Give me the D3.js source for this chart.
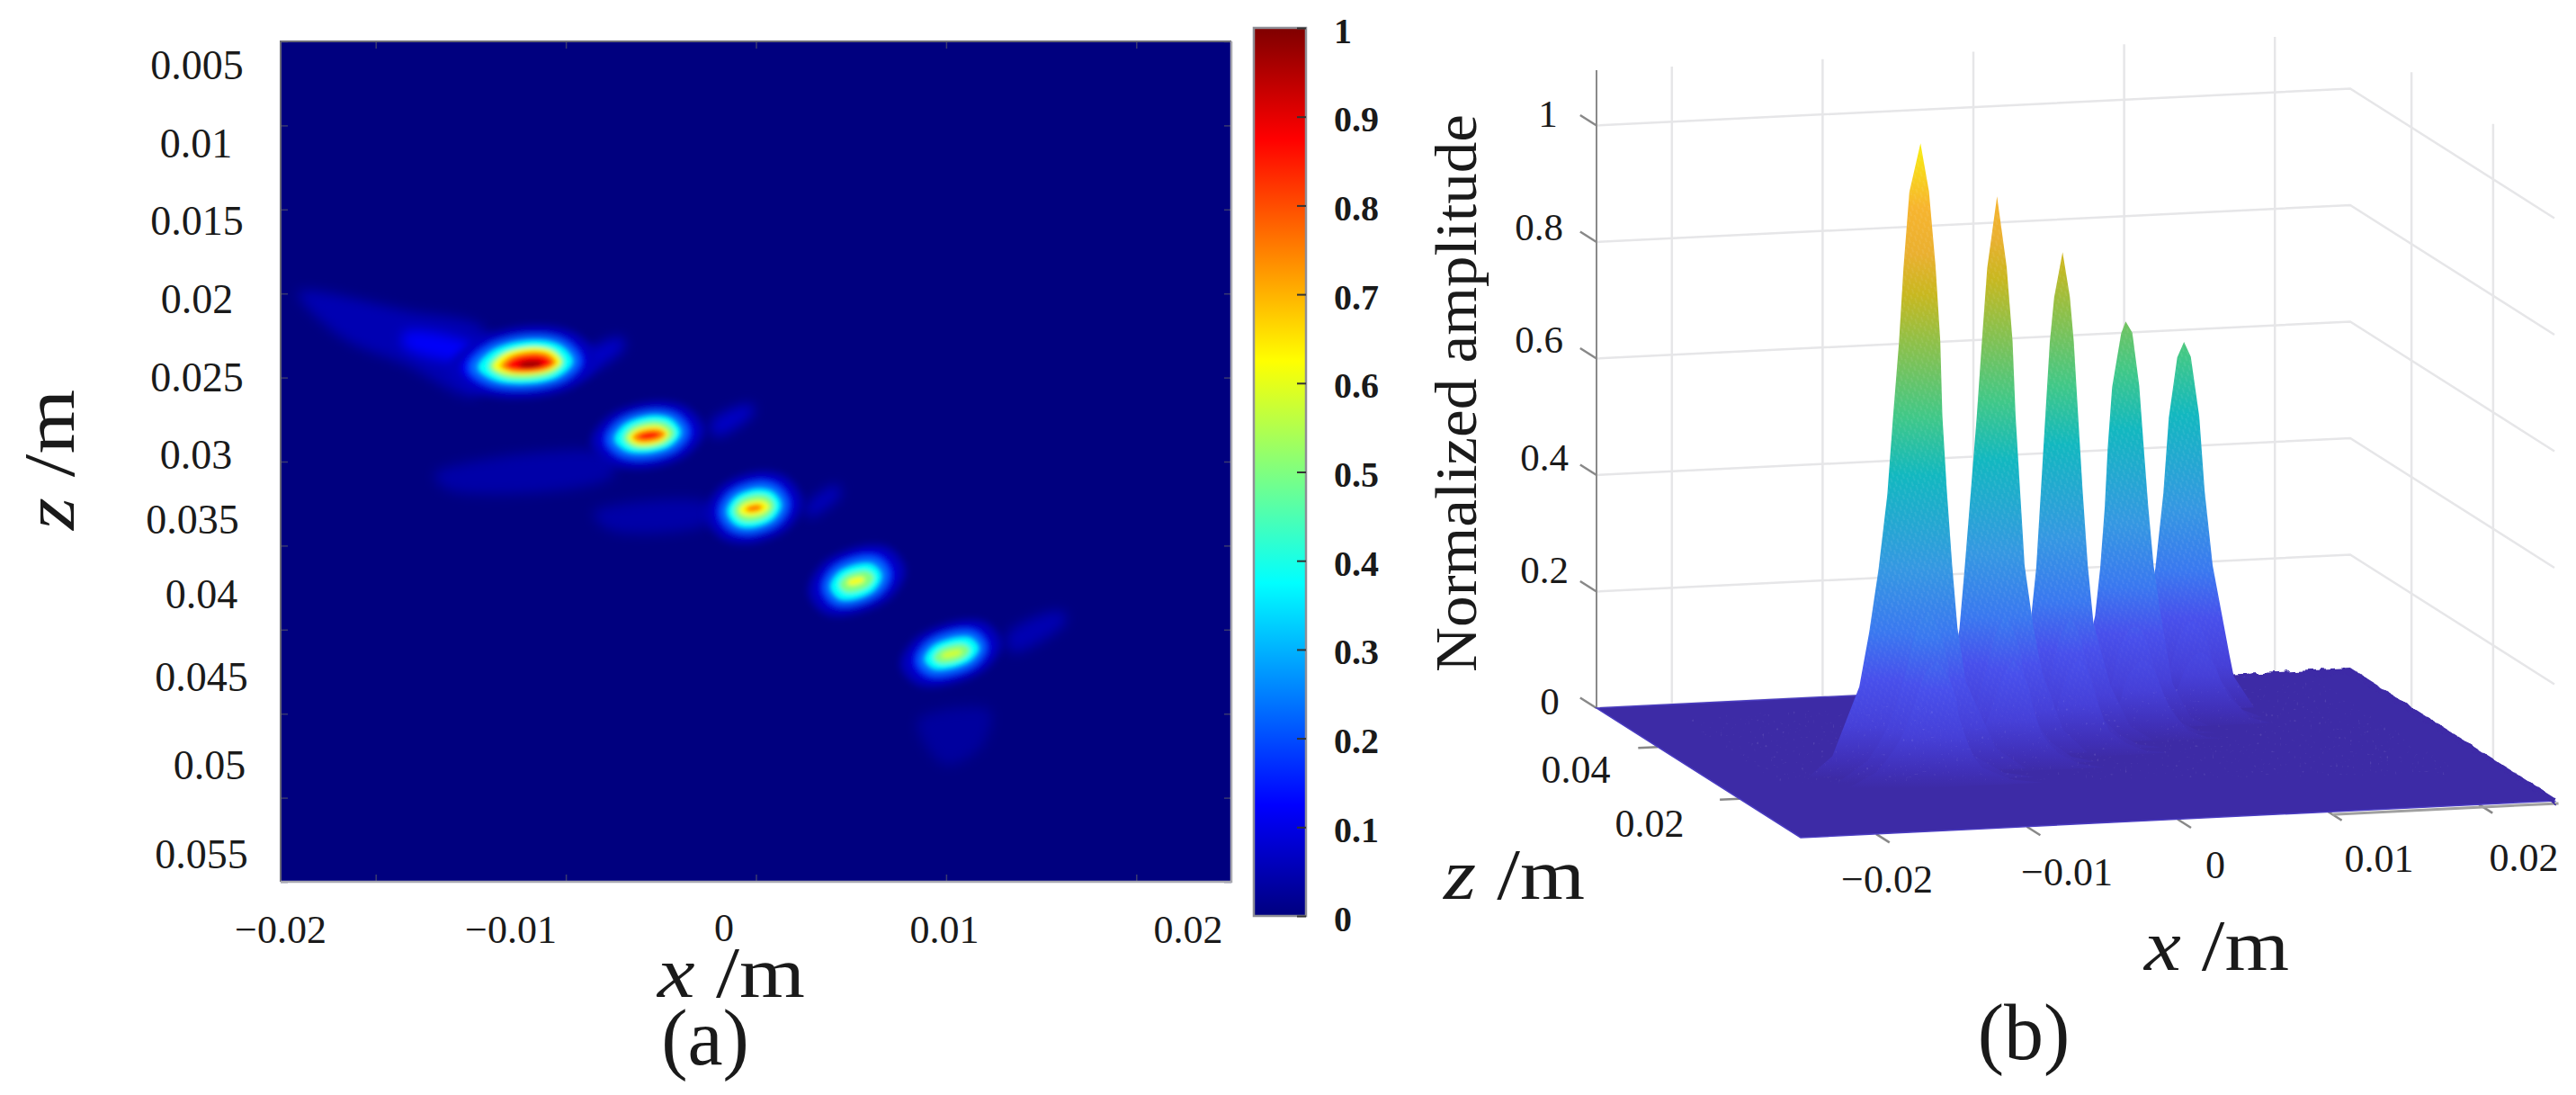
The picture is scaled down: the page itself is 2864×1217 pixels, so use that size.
<!DOCTYPE html>
<html>
<head>
<meta charset="utf-8">
<script src="https://cdn.jsdelivr.net/npm/d3@7"></script>
<style>
  html, body { margin: 0; background: #fff; }
  text { font-family: "Liberation Serif", serif; fill: #1a1a1a; }
</style>
</head>
<body>
<svg id="chart" width="2864" height="1217"></svg>
<script>
// tick values
const xTicks = [-0.02, -0.01, 0, 0.01, 0.02]
const zTicks = [0.005, 0.01, 0.015, 0.02, 0.025, 0.03, 0.035, 0.04, 0.045, 0.05, 0.055]
const barTicks = [0, 0.1, 0.2, 0.3, 0.4, 0.5, 0.6, 0.7, 0.8, 0.9, 1]
const heightTicks = [0, 0.2, 0.4, 0.6, 0.8, 1]
const depthTicks = [0.02, 0.04]

// colormaps
const jetLevels = [0, 0.125, 0.375, 0.625, 0.875, 1]
const jetColors = ['#00007f', '#0000ff', '#00ffff', '#ffff00', '#ff0000', '#7f0000']
const surfLevels = [0, 0.03, 0.09, 0.17, 0.25, 0.36, 0.52, 0.62, 0.75, 0.83, 0.9, 0.98, 1.08]
const surfColors = ['#3d2ba6', '#4030b8', '#4640d8', '#4850ec', '#3a78f0', '#3598e2', '#12b8c0', '#40c888', '#90c048', '#c8b820', '#eab030', '#f7b52f', '#f8ea10']

// spot centres in mm (panel a), tilt = dz/dx of each spot
const spotX = [-11.85, -5.62, -0.1, 5.26, 10.3]
const spotZ = [24.2, 28.46, 32.78, 37.12, 41.44]
const spotTilt = [0.075, 0.12, 0.15, 0.25, 0.25]

// contour rings of each spot: [level, west, north, east, south] in mm
const spot1Rings = [
  [0.06, 4.3, 2.3, 3.5, 2.0], [0.12, 3.63, 1.79, 2.84, 1.52], [0.25, 3.15, 1.61, 2.52, 1.34], [0.38, 2.76, 1.43, 2.21, 1.16],
  [0.5, 2.21, 1.07, 1.74, 0.89], [0.62, 1.97, 0.98, 1.58, 0.63], [0.75, 1.58, 0.75, 1.34, 0.5],
  [0.87, 1.26, 0.54, 1.1, 0.36], [0.97, 0.63, 0.21, 0.63, 0.21]
]
const spot2Rings = [
  [0.06, 3.05, 2.05, 2.9, 1.95], [0.12, 2.44, 1.57, 2.29, 1.46], [0.25, 2.13, 1.39, 1.97, 1.25], [0.38, 1.81, 1.21, 1.66, 1.02],
  [0.5, 1.34, 0.86, 1.34, 0.75], [0.62, 1.1, 0.59, 1.03, 0.57], [0.75, 0.87, 0.39, 0.87, 0.39],
  [0.86, 0.55, 0.21, 0.55, 0.21]
]
const spot3Rings = [
  [0.06, 2.55, 2.2, 2.55, 2.1], [0.12, 1.97, 1.7, 1.97, 1.61], [0.25, 1.7, 1.43, 1.7, 1.39], [0.38, 1.42, 1.16, 1.42, 1.16],
  [0.5, 1.07, 0.8, 1.07, 0.8], [0.62, 0.79, 0.45, 0.79, 0.45], [0.76, 0.44, 0.21, 0.44, 0.21]
]
const spot4Rings = [
  [0.06, 2.5, 2.15, 2.6, 2.05], [0.12, 1.89, 1.66, 1.97, 1.55], [0.25, 1.61, 1.34, 1.66, 1.34], [0.38, 1.34, 1.04, 1.34, 1.11],
  [0.5, 0.87, 0.59, 0.95, 0.66], [0.62, 0.47, 0.23, 0.47, 0.21]
]
const spot5Rings = [
  [0.06, 2.7, 2.0, 2.6, 1.9], [0.12, 2.05, 1.52, 1.97, 1.43], [0.25, 1.74, 1.25, 1.7, 1.16], [0.38, 1.42, 0.98, 1.42, 0.89],
  [0.5, 0.95, 0.54, 0.95, 0.54], [0.58, 0.55, 0.21, 0.55, 0.21]
]
const allRings = [spot1Rings, spot2Rings, spot3Rings, spot4Rings, spot5Rings]

// faint side lobes in mm: [x, z] outlines and their levels
const lobeLevels = [0.05, 0.12, 0.07, 0.04, 0.04, 0.03, 0.05, 0.07, 0.06]
const lobeOutlines = [
  [[-24.05, 19.94], [-18.47, 21.0], [-14.2, 22.24], [-14.7, 26.1], [-18.47, 24.2], [-21.8, 22.6]],
  [[-18.47, 22.35], [-14.9, 23.15], [-14.9, 23.95], [-18.47, 23.15]],
  [[-9.7, 24.2], [-7.12, 22.6], [-6.9, 23.15], [-9.5, 25.0]],
  [[-16.9, 30.75], [-7.6, 29.57], [-7.6, 30.9], [-16.1, 31.7]],
  [[-8.54, 33.05], [-2.39, 32.5], [-2.39, 33.6], [-7.6, 34.1]],
  [[8.5, 45.4], [12.3, 44.8], [11.8, 47], [9.9, 48]],
  [[13.2, 40.3], [16.06, 38.9], [16.3, 39.5], [13.45, 41.35]],
  [[-2.39, 27.7], [-0.26, 26.6], [-0.12, 27.05], [-2.15, 28.5]],
  [[2.58, 32.78], [4.23, 31.4], [4.47, 31.9], [2.8, 33.3]]
]

// peak outlines of panel b: [amplitude, west half width, east half width] in mm, tip first
const peak1Profile = [[1.09, 0, 0], [1.007, 0.74, 0.56], [0.877, 1.13, 1.0], [0.749, 1.43, 1.31], [0.62, 1.83, 1.45], [0.49, 2.2, 1.75], [0.363, 2.78, 2.1], [0.255, 3.4, 2.45], [0.162, 4.06, 3.0], [0.045, 5.85, 5.0], [0.008, 7.6, 7.0]]
const peak2Profile = [[0.972, 0, 0], [0.85, 0.65, 0.64], [0.722, 1.01, 1.03], [0.594, 1.35, 1.23], [0.464, 1.75, 1.53], [0.336, 2.15, 1.83], [0.231, 2.5, 2.4], [0.15, 3.1, 3.0], [0.05, 4.5, 4.4], [0.01, 6, 6]]
const peak3Profile = [[0.85, 0, 0], [0.773, 0.56, 0.48], [0.696, 0.85, 0.74], [0.568, 1.15, 1.03], [0.438, 1.45, 1.33], [0.31, 1.75, 1.67], [0.21, 2.15, 2.05], [0.1, 3.2, 3.2], [0.03, 4.5, 4.5], [0.005, 6, 6]]
const peak4Profile = [[0.705, 0, 0], [0.685, 0.3, 0.44], [0.593, 0.9, 0.9], [0.49, 1.19, 1.19], [0.387, 1.39, 1.49], [0.284, 1.69, 1.85], [0.202, 2.03, 2.3], [0.08, 3.1, 3.1], [0.02, 4.3, 4.3], [0.004, 5.5, 5.5]]
const peak5Profile = [[0.644, 0, 0], [0.618, 0.45, 0.45], [0.515, 1.01, 1.01], [0.386, 1.37, 1.37], [0.258, 1.9, 1.9], [0.105, 3.0, 3.0], [0.066, 3.3, 3.3], [0.011, 4.65, 4.65]]
const allProfiles = [peak1Profile, peak2Profile, peak3Profile, peak4Profile, peak5Profile]

// lower ridges seen in front of each peak: distance in front of it (mm) and relative height
const ridgeFront = [0, 2, 4]
const ridgeHeight = [1, 0.27, 0.2]

// hand placed labels of the original figure (they do not sit on the ticks)
const zLabelPlace = [[219, 73], [218, 160], [219, 246], [219, 333], [219, 420], [218, 506], [214, 578], [224, 661], [224, 753], [233, 851], [224, 950]]
const xLabelPlace = [[312, 1033], [568, 1033], [805, 1031], [1050, 1033], [1321, 1033]]
const heightLabelPlace = [[1723, 780], [1717, 634], [1717, 509], [1711, 378], [1711, 253], [1721, 127]]
const depthLabelPlace = [[1834, 914.5], [1752, 855]]
const xLabelPlaceB = [[2098, 976.6], [2298, 969], [2463, 961], [2645, 953.5], [2806, 952.5]]

const svg = d3.select('#chart')
const defs = svg.append('defs')
const minus = (d) => String(d).replace('-', '\u2212')

const jet = d3.scaleLinear().domain(jetLevels).range(jetColors)
const surf = d3.scaleLinear().domain(surfLevels).range(surfColors)

// ---------- panel a : heat map ----------
const plot = { left: 312, right: 1369, top: 46, bottom: 980 }
const x = d3.scaleLinear().domain([-0.025, 0.025]).range([plot.left, plot.right])
const z = d3.scaleLinear().domain([0.005, 0.055]).range([plot.top, plot.bottom])

defs.append('clipPath').attr('id', 'plot-clip').append('rect')
  .attr('x', plot.left).attr('y', plot.top)
  .attr('width', plot.right - plot.left).attr('height', plot.bottom - plot.top)

function addBlur(id, amount) {
  defs.append('filter').attr('id', id)
    .attr('filterUnits', 'userSpaceOnUse').attr('x', 250).attr('y', 0).attr('width', 1200).attr('height', 1100)
    .append('feGaussianBlur').attr('stdDeviation', amount)
}
addBlur('soft', 2.4)
addBlur('medium', 4.5)
addBlur('softer', 7)

svg.append('rect')
  .attr('x', plot.left).attr('y', plot.top)
  .attr('width', plot.right - plot.left).attr('height', plot.bottom - plot.top)
  .attr('fill', jet(0))

const ringLine = d3.line()
  .x((p) => x(p[0] / 1000))
  .y((p) => z(p[1] / 1000))
  .curve(d3.curveCatmullRomClosed.alpha(0.5))

const clipped = svg.append('g').attr('clip-path', 'url(#plot-clip)')

clipped.append('g').attr('filter', 'url(#softer)')
  .selectAll('.lobe')
  .data(lobeOutlines)
  .enter()
  .append('path')
  .attr('class', 'lobe')
  .attr('d', ringLine)
  .attr('fill', (d, i) => jet(lobeLevels[i]))

// outer rings get a wider blur than the core
const heatOuter = clipped.append('g').attr('filter', 'url(#medium)')
const heatInner = clipped.append('g').attr('filter', 'url(#soft)')

function ringPath(r, s) {
  const cx = spotX[s], cz = spotZ[s], t = spotTilt[s]
  const round = 0.7
  return ringLine([
    [cx - r[1], cz + r[1] * t],
    [cx - r[1] * round, cz - r[2] * round + r[1] * round * t],
    [cx + r[2] * t, cz - r[2]],
    [cx + r[3] * round, cz - r[2] * round - r[3] * round * t],
    [cx + r[3], cz - r[3] * t],
    [cx + r[3] * round, cz + r[4] * round - r[3] * round * t],
    [cx - r[4] * t, cz + r[4]],
    [cx - r[1] * round, cz + r[4] * round + r[1] * round * t]
  ])
}

allRings.forEach(function(rings, s) {
  heatOuter.selectAll('.outer' + s)
    .data(rings.filter((r) => r[0] < 0.3))
    .enter()
    .append('path')
    .attr('class', 'outer' + s)
    .attr('d', (r) => ringPath(r, s))
    .attr('fill', (r) => jet(r[0]))
  heatInner.selectAll('.inner' + s)
    .data(rings.filter((r) => r[0] >= 0.3))
    .enter()
    .append('path')
    .attr('class', 'inner' + s)
    .attr('d', (r) => ringPath(r, s))
    .attr('fill', (r) => jet(r[0]))
})

// inner ticks on all four sides
function faintTicks(g) {
  g.select('.domain').remove()
  g.selectAll('.tick line').attr('stroke', '#3a3a70').attr('stroke-width', 1.5)
  g.selectAll('text').remove()
}
svg.append('g').attr('transform', `translate(0,${plot.bottom})`)
  .call(d3.axisBottom(x).tickValues(xTicks).tickSize(-8)).call(faintTicks)
svg.append('g').attr('transform', `translate(0,${plot.top})`)
  .call(d3.axisTop(x).tickValues(xTicks).tickSize(-8)).call(faintTicks)
svg.append('g').attr('transform', `translate(${plot.left},0)`)
  .call(d3.axisLeft(z).tickValues(zTicks).tickSize(-8)).call(faintTicks)
svg.append('g').attr('transform', `translate(${plot.right},0)`)
  .call(d3.axisRight(z).tickValues(zTicks).tickSize(-8)).call(faintTicks)

svg.append('path')
  .attr('d', `M${plot.left},${plot.bottom}V${plot.top}H${plot.right}`)
  .attr('fill', 'none').attr('stroke', '#6a6a78').attr('stroke-width', 2)
svg.append('path')
  .attr('d', `M${plot.left},${plot.bottom}H${plot.right}V${plot.top}`)
  .attr('fill', 'none').attr('stroke', '#a8a8b0').attr('stroke-width', 2.5)

svg.selectAll('.z-label')
  .data(zTicks)
  .enter()
  .append('text')
  .attr('class', 'z-label')
  .attr('x', (d, i) => zLabelPlace[i][0])
  .attr('y', (d, i) => zLabelPlace[i][1] + 15)
  .attr('text-anchor', 'middle')
  .attr('font-size', 46)
  .text((d) => d)

svg.selectAll('.x-label')
  .data(xTicks)
  .enter()
  .append('text')
  .attr('class', 'x-label')
  .attr('x', (d, i) => xLabelPlace[i][0])
  .attr('y', (d, i) => xLabelPlace[i][1] + 15)
  .attr('text-anchor', 'middle')
  .attr('font-size', 44)
  .text(minus)

function axisTitle(letter, px, py, length, rotate) {
  const t = svg.append('text')
    .attr('transform', `translate(${px},${py}) rotate(${rotate})`)
    .attr('font-size', 80)
    .attr('textLength', length)
    .attr('lengthAdjust', 'spacingAndGlyphs')
  t.append('tspan').attr('font-style', 'italic').text(letter)
  t.append('tspan').text(' /m')
}
axisTitle('x', 731, 1108, 164, 0)
axisTitle('z', 82, 589, 156, -90)

svg.append('text').attr('x', 784).attr('y', 1183).attr('text-anchor', 'middle').attr('font-size', 88).text('(a)')

// ---------- colour bar ----------
const bar = { left: 1394, right: 1452, top: 31, bottom: 1018 }
const barScale = d3.scaleLinear().domain([0, 1]).range([bar.bottom, bar.top])

const barGrad = defs.append('linearGradient').attr('id', 'bar-grad')
  .attr('x1', 0).attr('y1', 1).attr('x2', 0).attr('y2', 0)
barGrad.selectAll('stop')
  .data(jetLevels)
  .enter()
  .append('stop')
  .attr('offset', (d) => d)
  .attr('stop-color', (d, i) => jetColors[i])

svg.append('rect')
  .attr('x', bar.left).attr('y', bar.top)
  .attr('width', bar.right - bar.left).attr('height', bar.bottom - bar.top)
  .attr('fill', 'url(#bar-grad)')
  .attr('stroke', '#8e8e96').attr('stroke-width', 2.5)

const barAxis = svg.append('g').attr('transform', `translate(${bar.right},0)`)
  .call(d3.axisRight(barScale).tickValues(barTicks).tickSize(-10).tickPadding(31).tickFormat((d) => d))
barAxis.select('.domain').remove()
barAxis.selectAll('.tick line').attr('stroke', '#333').attr('stroke-width', 2)
barAxis.selectAll('text')
  .attr('font-family', '"Liberation Serif", serif')
  .attr('font-weight', 'bold')
  .attr('font-size', 40)
  .attr('dy', '0.4em')
  .attr('text-anchor', 'start')
barAxis.attr('font-family', null).attr('font-size', null)

// ---------- panel b : surface ----------
const wallX = d3.scaleLinear().domain([-0.025, 0.025]).range([0, 838])
const wallXRise = d3.scaleLinear().domain([-0.025, 0.025]).range([0, -41])
const depthX = d3.scaleLinear().domain([0.005, 0.055]).range([227, 0])
const depthY = d3.scaleLinear().domain([0.005, 0.055]).range([144, 0])
const amp = d3.scaleLinear().domain([0, 1]).range([0, -647.5])
const topAmp = 1.095

function project(px, pz, a) {
  return [1775 + wallX(px) + depthX(pz), 787 + wallXRise(px) + depthY(pz) + amp(a)]
}
const seg = d3.line()
const gridColor = '#e6e6e8'

// back wall and side wall grid
const grid = svg.append('g').attr('fill', 'none').attr('stroke', gridColor).attr('stroke-width', 2.5)
grid.selectAll('.wall-h')
  .data(heightTicks)
  .enter()
  .append('path')
  .attr('d', (a) => seg([project(-0.025, 0.055, a), project(0.025, 0.055, a), project(0.025, 0.005, a)]))
grid.selectAll('.wall-v')
  .data(xTicks)
  .enter()
  .append('path')
  .attr('d', (d) => seg([project(d, 0.055, 0), project(d, 0.055, topAmp)]))
grid.selectAll('.side-v')
  .data(depthTicks)
  .enter()
  .append('path')
  .attr('d', (d) => seg([project(0.025, d, 0), project(0.025, d, topAmp)]))

svg.append('path')
  .attr('d', seg([project(-0.025, 0.055, 0), project(-0.025, 0.055, topAmp)]))
  .attr('stroke', '#8a8a8a').attr('stroke-width', 2).attr('fill', 'none')

// little axis ticks
const axisTicks = svg.append('g').attr('fill', 'none').attr('stroke', '#888').attr('stroke-width', 2.5)
axisTicks.selectAll('.h').data(heightTicks).enter().append('path')
  .attr('d', (a) => seg([project(-0.025, 0.055, a), project(-0.025, 0.059, a)]))
axisTicks.selectAll('.x').data(xTicks).enter().append('path')
  .attr('d', (d) => seg([project(d, 0.005, 0), project(d, 0.0017, 0)]))
axisTicks.selectAll('.d').data(depthTicks).enter().append('path')
  .attr('d', (d) => seg([project(-0.025, d, 0), project(-0.0263, d, 0)]))

// front axis line, only visible where the noisy surface lifts off it
svg.append('path')
  .attr('d', seg([project(0.01, 0.004, 0), project(0.025, 0.004, 0)]))
  .attr('fill', 'none').attr('stroke', '#a0a0a0').attr('stroke-width', 3)

// floor
const floorCorners = [project(-0.025, 0.055, 0), project(0.025, 0.055, 0), project(0.025, 0.005, 0), project(-0.025, 0.005, 0)]
svg.append('path')
  .attr('d', seg(floorCorners) + 'Z')
  .attr('fill', surf(0))
  .attr('stroke', '#4a3cc0').attr('stroke-width', 1.5)

// rough far edge, the noise of the measured surface
const rough = defs.append('filter').attr('id', 'rough')
  .attr('filterUnits', 'userSpaceOnUse').attr('x', 1700).attr('y', 650).attr('width', 1164).attr('height', 350)
rough.append('feTurbulence').attr('type', 'fractalNoise').attr('baseFrequency', 0.1).attr('numOctaves', 2).attr('seed', 4).attr('result', 'n')
rough.append('feDisplacementMap').attr('in', 'SourceGraphic').attr('in2', 'n').attr('scale', 11)
svg.append('path')
  .attr('d', seg([project(0.008, 0.055, 0), project(0.025, 0.055, 0), project(0.025, 0.005, 0)]))
  .attr('fill', 'none').attr('stroke', surf(0)).attr('stroke-width', 6).attr('filter', 'url(#rough)')

// mesh texture laid over the surface
const hatch = defs.append('pattern').attr('id', 'mesh')
  .attr('patternUnits', 'userSpaceOnUse').attr('width', 7).attr('height', 11)
  .attr('patternTransform', 'rotate(-18)')
hatch.append('path').attr('d', 'M1,0V5M4.5,5V11').attr('stroke', '#fff').attr('stroke-opacity', 0.09).attr('stroke-width', 1.6)

// one slice of a peak, painted with its own height colours
function drawSlice(i, k) {
  const cx = spotX[i] / 1000, cz = (spotZ[i] - ridgeFront[k]) / 1000
  const key = i + '-' + k
  const yLow = project(cx, cz, 0)[1]
  const yHigh = project(cx, cz, 1.08)[1]

  const grad = defs.append('linearGradient').attr('id', 'peak-grad' + key)
    .attr('gradientUnits', 'userSpaceOnUse')
    .attr('x1', 0).attr('x2', 0).attr('y1', yLow).attr('y2', yHigh)
  grad.selectAll('stop')
    .data(surfLevels)
    .enter()
    .append('stop')
    .attr('offset', (d) => d / 1.08)
    .attr('stop-color', (d, j) => surfColors[j])

  // the mesh fades out towards the floor
  const fade = defs.append('linearGradient').attr('id', 'fade' + key)
    .attr('gradientUnits', 'userSpaceOnUse')
    .attr('x1', 0).attr('x2', 0).attr('y1', project(cx, cz, 0.05)[1]).attr('y2', project(cx, cz, 0.3)[1])
  fade.append('stop').attr('offset', 0).attr('stop-color', '#000')
  fade.append('stop').attr('offset', 1).attr('stop-color', '#fff')
  defs.append('mask').attr('id', 'mesh-mask' + key)
    .attr('maskUnits', 'userSpaceOnUse').attr('x', 1700).attr('y', 0).attr('width', 1164).attr('height', 1000)
    .append('rect').attr('x', 1700).attr('y', 0).attr('width', 1164).attr('height', 1000)
    .attr('fill', `url(#fade${key})`)

  const profile = allProfiles[i]
  const h = ridgeHeight[k]
  const east = profile.map((p) => project(cx + p[2] / 1000, cz, p[0] * h))
  const west = profile.slice(1).reverse().map((p) => project(cx - p[1] / 1000, cz, p[0] * h))
  const outline = seg(west.concat(east)) + 'Z'

  svg.append('path').attr('d', outline).attr('fill', `url(#peak-grad${key})`)
  svg.append('path').attr('d', outline).attr('fill', 'url(#mesh)').attr('mask', `url(#mesh-mask${key})`)
}

// the far peak first, every peak with its lower front ridges after it
d3.range(allProfiles.length - 1, -1, -1).forEach(function(i) {
  ridgeFront.forEach((d, k) => drawSlice(i, k))
})

// fine speckle on the low part of the surface
const speck = defs.append('filter').attr('id', 'speck')
  .attr('filterUnits', 'userSpaceOnUse').attr('x', 1700).attr('y', 650).attr('width', 1164).attr('height', 350)
speck.append('feTurbulence').attr('type', 'fractalNoise').attr('baseFrequency', 0.32).attr('numOctaves', 1).attr('seed', 9).attr('result', 'n')
speck.append('feColorMatrix').attr('in', 'n').attr('type', 'matrix')
  .attr('values', '0 0 0 0 1  0 0 0 0 1  0 0 0 0 1  7 0 0 0 -4.7').attr('result', 'dots')
speck.append('feComposite').attr('in', 'dots').attr('in2', 'SourceAlpha').attr('operator', 'in')
svg.append('path')
  .attr('d', seg([project(-0.021, 0.05, 0), project(0.022, 0.052, 0), project(0.022, 0.016, 0), project(-0.021, 0.025, 0)]) + 'Z')
  .attr('fill', '#fff').attr('filter', 'url(#speck)').attr('opacity', 0.1)

// labels of panel b
svg.selectAll('.h-label')
  .data(heightTicks)
  .enter()
  .append('text')
  .attr('x', (d, i) => heightLabelPlace[i][0])
  .attr('y', (d, i) => heightLabelPlace[i][1] + 14)
  .attr('text-anchor', 'middle')
  .attr('font-size', 43)
  .text((d) => d)
svg.selectAll('.d-label')
  .data(depthTicks)
  .enter()
  .append('text')
  .attr('x', (d, i) => depthLabelPlace[i][0])
  .attr('y', (d, i) => depthLabelPlace[i][1] + 15)
  .attr('text-anchor', 'middle')
  .attr('font-size', 44)
  .text((d) => d)
svg.selectAll('.xb-label')
  .data(xTicks)
  .enter()
  .append('text')
  .attr('x', (d, i) => xLabelPlaceB[i][0])
  .attr('y', (d, i) => xLabelPlaceB[i][1] + 15)
  .attr('text-anchor', 'middle')
  .attr('font-size', 44)
  .text(minus)

svg.append('text')
  .attr('transform', 'translate(1641,747) rotate(-90)')
  .attr('font-size', 66)
  .attr('textLength', 620)
  .attr('lengthAdjust', 'spacingAndGlyphs')
  .text('Normalized amplitude')

axisTitle('z', 1605, 999, 157, 0)
axisTitle('x', 2384, 1078, 161, 0)
svg.append('text').attr('x', 2250).attr('y', 1177).attr('text-anchor', 'middle').attr('font-size', 88).text('(b)')
</script>
</body>
</html>
